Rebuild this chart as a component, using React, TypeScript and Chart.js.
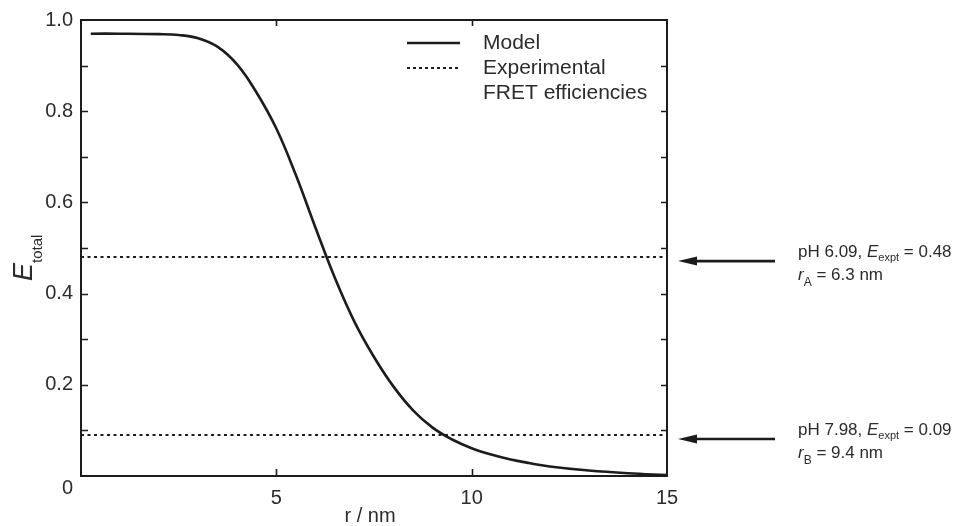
import { useEffect, useRef } from "react";
import { Chart, registerables } from "chart.js";

Chart.register(...registerables);

// Model curve: total FRET efficiency vs. donor–acceptor distance r (nm)
const radiusNm = [0.25, 1, 2, 2.5, 3, 3.5, 4, 4.5, 5, 5.5, 6, 6.5, 7, 7.5, 8, 8.5, 9, 9.5, 10, 10.5, 11, 11.5, 12, 13, 14, 15];
const efficiency = [0.97, 0.97, 0.969, 0.967, 0.96, 0.941, 0.902, 0.84, 0.762, 0.66, 0.545, 0.434, 0.338, 0.261, 0.196, 0.144, 0.106, 0.08, 0.061, 0.047, 0.036, 0.028, 0.021, 0.012, 0.006, 0.002];

// Experimental FRET efficiencies and the distances they map to
const phValues = ["6.09", "7.98"];
const eExpt = [0.48, 0.09];
const rSubscripts = ["A", "B"];
const rValues = [6.3, 9.4];

// Axis ranges and ticks
const xRange = [0, 15];
const yRange = [0, 1];
const xMajorTicks = [5, 10];
const yMinorStep = 0.1;

const FONT = "'Liberation Sans', Arial, Helvetica, sans-serif";
const INK = "#1c1c1c";
const TEXT = "#2b2b2b";

type Run = { text: string; size: number; italic?: boolean; dy?: number };

function drawRuns(ctx: CanvasRenderingContext2D, x: number, y: number, runs: Run[]) {
  let cx = x;
  for (const r of runs) {
    ctx.font = `${r.italic ? "italic " : ""}${r.size}px ${FONT}`;
    ctx.fillText(r.text, cx, y + (r.dy || 0));
    cx += ctx.measureText(r.text).width;
  }
}

const decorations = {
  id: "decorations",
  afterDraw(chart: any) {
    const { ctx, chartArea } = chart;
    const { left, right, top, bottom } = chartArea;
    const xs = chart.scales.x;
    const ys = chart.scales.y;
    ctx.save();

    // frame
    ctx.strokeStyle = INK;
    ctx.lineWidth = 2;
    ctx.strokeRect(left, top, right - left, bottom - top);

    // inward tick marks
    ctx.lineWidth = 1.6;
    ctx.beginPath();
    for (let v = yRange[0] + yMinorStep; v < yRange[1] - 1e-9; v += yMinorStep) {
      const py = Math.round(ys.getPixelForValue(v)) + 0.5;
      ctx.moveTo(left, py);
      ctx.lineTo(left + 7, py);
      ctx.moveTo(right, py);
      ctx.lineTo(right - 6, py);
    }
    for (const v of xMajorTicks) {
      const px = Math.round(xs.getPixelForValue(v)) + 0.5;
      ctx.moveTo(px, bottom);
      ctx.lineTo(px, bottom - 7);
      ctx.moveTo(px, top);
      ctx.lineTo(px, top + 6);
    }
    ctx.stroke();

    // shared origin label
    ctx.fillStyle = TEXT;
    ctx.font = `20px ${FONT}`;
    ctx.textAlign = "right";
    ctx.textBaseline = "middle";
    ctx.fillText("0", left - 8, bottom + 12);

    // x-axis title
    ctx.textAlign = "center";
    ctx.font = `20px ${FONT}`;
    ctx.fillText("r / nm", (left + right) / 2 - 4, bottom + 40);

    // y-axis title, rotated
    ctx.save();
    ctx.translate(32, 281);
    ctx.rotate(-Math.PI / 2);
    ctx.textAlign = "left";
    ctx.textBaseline = "alphabetic";
    drawRuns(ctx, 0, 0, [
      { text: "E", size: 27, italic: true },
      { text: "total", size: 15, dy: 10 },
    ]);
    ctx.restore();

    // legend
    const lx0 = 407;
    const lx1 = 460;
    const ly = [43, 68];
    ctx.strokeStyle = INK;
    ctx.lineWidth = 2.6;
    ctx.setLineDash([]);
    ctx.beginPath();
    ctx.moveTo(lx0, ly[0]);
    ctx.lineTo(lx1, ly[0]);
    ctx.stroke();
    ctx.lineWidth = 2;
    ctx.setLineDash([3, 3]);
    ctx.beginPath();
    ctx.moveTo(lx0, ly[1]);
    ctx.lineTo(lx1, ly[1]);
    ctx.stroke();
    ctx.setLineDash([]);
    ctx.fillStyle = TEXT;
    ctx.font = `21px ${FONT}`;
    ctx.textAlign = "left";
    ctx.textBaseline = "middle";
    ctx.fillText("Model", 483, ly[0]);
    ctx.fillText("Experimental", 483, ly[1]);
    ctx.fillText("FRET efficiencies", 483, ly[1] + 25);

    // arrows and annotations for the experimental values
    eExpt.forEach((e, i) => {
      const ay = ys.getPixelForValue(e) + 4;
      const tip = right + 11;
      ctx.strokeStyle = INK;
      ctx.fillStyle = INK;
      ctx.lineWidth = 2.6;
      ctx.beginPath();
      ctx.moveTo(775, ay);
      ctx.lineTo(tip + 14, ay);
      ctx.stroke();
      ctx.beginPath();
      ctx.moveTo(tip, ay);
      ctx.lineTo(tip + 19, ay - 4.5);
      ctx.lineTo(tip + 19, ay + 4.5);
      ctx.closePath();
      ctx.fill();

      ctx.fillStyle = TEXT;
      ctx.textAlign = "left";
      ctx.textBaseline = "alphabetic";
      drawRuns(ctx, 798, ay - 4, [
        { text: `pH ${phValues[i]}, `, size: 17 },
        { text: "E", size: 17, italic: true },
        { text: "expt", size: 11, dy: 4 },
        { text: ` = ${e.toFixed(2)}`, size: 17 },
      ]);
      drawRuns(ctx, 798, ay + 19, [
        { text: "r", size: 17, italic: true },
        { text: rSubscripts[i], size: 12, dy: 6 },
        { text: ` = ${rValues[i]} nm`, size: 17 },
      ]);
    });

    ctx.restore();
  },
};

export default function App() {
  const canvasRef = useRef<HTMLCanvasElement>(null);

  useEffect(() => {
    const canvas = canvasRef.current;
    if (!canvas) return;
    const model = radiusNm.map((r, i) => ({ x: r, y: efficiency[i] }));
    const exptLines = eExpt.map((e) => [
      { x: xRange[0], y: e },
      { x: xRange[1], y: e },
    ]);

    const chart = new Chart(canvas, {
      type: "line",
      data: {
        datasets: [
          {
            label: "Model",
            data: model,
            borderColor: INK,
            borderWidth: 2.6,
            pointRadius: 0,
            tension: 0.4,
            fill: false,
          },
          ...exptLines.map((d, i) => ({
            label: `Experimental ${i + 1}`,
            data: d,
            borderColor: INK,
            borderWidth: 2,
            borderDash: [3, 3.5],
            pointRadius: 0,
            fill: false,
          })),
        ],
      },
      options: {
        animation: false,
        responsive: true,
        maintainAspectRatio: false,
        layout: { padding: { left: 0, top: 17, right: 304, bottom: 0 } },
        plugins: {
          legend: { display: false },
          tooltip: { enabled: false },
        },
        scales: {
          x: {
            type: "linear",
            min: xRange[0],
            max: xRange[1],
            grid: { display: false, drawTicks: false, tickLength: 0 },
            border: { display: false },
            ticks: {
              stepSize: 5,
              color: TEXT,
              font: { family: FONT, size: 20 },
              padding: 10,
              maxRotation: 0,
              callback: (v: any) => (Number(v) === 0 ? "" : String(v)),
            },
            afterFit: (s: any) => {
              s.height = 50;
            },
          },
          y: {
            type: "linear",
            min: yRange[0],
            max: yRange[1],
            grid: { display: false, drawTicks: false, tickLength: 0 },
            border: { display: false },
            ticks: {
              stepSize: 0.2,
              color: TEXT,
              font: { family: FONT, size: 20 },
              padding: 8,
              callback: (v: any) => (Number(v) === 0 ? "" : Number(v).toFixed(1)),
            },
            afterFit: (s: any) => {
              s.width = 81;
            },
          },
        },
      },
      plugins: [decorations],
    } as any);

    return () => chart.destroy();
  }, []);

  return (
    <div style={{ position: "fixed", left: 0, top: 0, width: 971, height: 526, background: "#fff" }}>
      <canvas ref={canvasRef} />
    </div>
  );
}
